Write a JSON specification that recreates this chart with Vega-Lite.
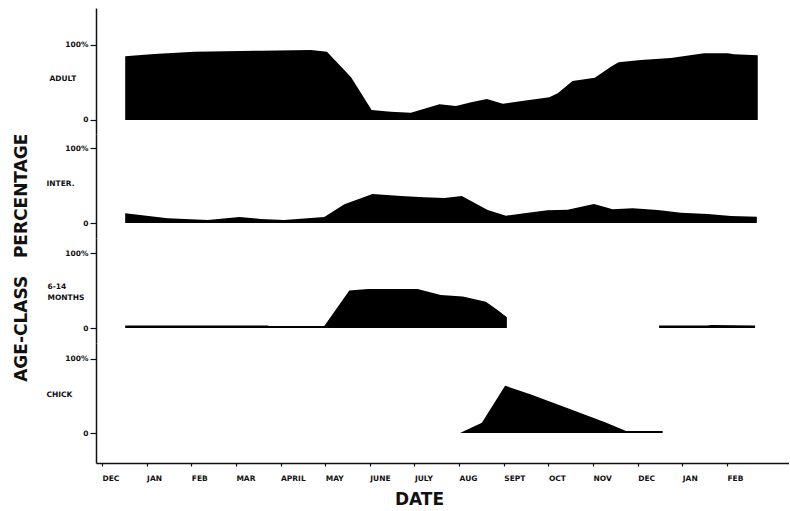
{
  "$schema": "https://vega.github.io/schema/vega-lite/v6.json",
  "padding": {"left": 12, "top": 8, "right": 0, "bottom": 0},
  "background": "white",
  "spacing": 0,
  "title": {"text": "AGE-CLASS\u00a0\u00a0\u00a0PERCENTAGE", "orient": "left", "anchor": "middle", "fontSize": 17, "fontWeight": "bold", "font": "DejaVu Sans", "color": "#111", "offset": 15},
  "data": {"values": [
    {"c": "ADULT", "seg": 1, "m": 0.52, "v": 85},
    {"c": "ADULT", "seg": 1, "m": 1.17, "v": 88},
    {"c": "ADULT", "seg": 1, "m": 2.07, "v": 91},
    {"c": "ADULT", "seg": 1, "m": 3.56, "v": 92.4},
    {"c": "ADULT", "seg": 1, "m": 4.68, "v": 93.3},
    {"c": "ADULT", "seg": 1, "m": 5.04, "v": 91},
    {"c": "ADULT", "seg": 1, "m": 5.58, "v": 57},
    {"c": "ADULT", "seg": 1, "m": 6.04, "v": 13.3},
    {"c": "ADULT", "seg": 1, "m": 6.47, "v": 11},
    {"c": "ADULT", "seg": 1, "m": 6.92, "v": 9.8},
    {"c": "ADULT", "seg": 1, "m": 7.56, "v": 21},
    {"c": "ADULT", "seg": 1, "m": 7.93, "v": 18.7},
    {"c": "ADULT", "seg": 1, "m": 8.27, "v": 23.6},
    {"c": "ADULT", "seg": 1, "m": 8.62, "v": 28},
    {"c": "ADULT", "seg": 1, "m": 8.98, "v": 21.8},
    {"c": "ADULT", "seg": 1, "m": 9.45, "v": 25.8},
    {"c": "ADULT", "seg": 1, "m": 10.02, "v": 30.2},
    {"c": "ADULT", "seg": 1, "m": 10.21, "v": 35.6},
    {"c": "ADULT", "seg": 1, "m": 10.54, "v": 52},
    {"c": "ADULT", "seg": 1, "m": 11.04, "v": 56.4},
    {"c": "ADULT", "seg": 1, "m": 11.40, "v": 71},
    {"c": "ADULT", "seg": 1, "m": 11.57, "v": 77},
    {"c": "ADULT", "seg": 1, "m": 12.07, "v": 80},
    {"c": "ADULT", "seg": 1, "m": 12.74, "v": 82.7},
    {"c": "ADULT", "seg": 1, "m": 13.49, "v": 89},
    {"c": "ADULT", "seg": 1, "m": 14.02, "v": 89},
    {"c": "ADULT", "seg": 1, "m": 14.16, "v": 87.6},
    {"c": "ADULT", "seg": 1, "m": 14.69, "v": 86.2},
    {"c": "INTER", "seg": 1, "m": 0.52, "v": 13},
    {"c": "INTER", "seg": 1, "m": 1.47, "v": 6.2},
    {"c": "INTER", "seg": 1, "m": 2.37, "v": 4},
    {"c": "INTER", "seg": 1, "m": 3.08, "v": 8},
    {"c": "INTER", "seg": 1, "m": 3.56, "v": 5.3},
    {"c": "INTER", "seg": 1, "m": 4.08, "v": 4},
    {"c": "INTER", "seg": 1, "m": 4.98, "v": 8},
    {"c": "INTER", "seg": 1, "m": 5.43, "v": 25},
    {"c": "INTER", "seg": 1, "m": 6.06, "v": 38.7},
    {"c": "INTER", "seg": 1, "m": 6.70, "v": 36},
    {"c": "INTER", "seg": 1, "m": 7.22, "v": 34.2},
    {"c": "INTER", "seg": 1, "m": 7.67, "v": 33.3},
    {"c": "INTER", "seg": 1, "m": 8.06, "v": 36},
    {"c": "INTER", "seg": 1, "m": 8.64, "v": 17.3},
    {"c": "INTER", "seg": 1, "m": 9.05, "v": 9.8},
    {"c": "INTER", "seg": 1, "m": 9.46, "v": 13},
    {"c": "INTER", "seg": 1, "m": 9.98, "v": 17},
    {"c": "INTER", "seg": 1, "m": 10.43, "v": 17.8},
    {"c": "INTER", "seg": 1, "m": 11.02, "v": 25.3},
    {"c": "INTER", "seg": 1, "m": 11.44, "v": 18.2},
    {"c": "INTER", "seg": 1, "m": 11.89, "v": 19.6},
    {"c": "INTER", "seg": 1, "m": 12.45, "v": 17.3},
    {"c": "INTER", "seg": 1, "m": 12.97, "v": 13.8},
    {"c": "INTER", "seg": 1, "m": 13.57, "v": 12},
    {"c": "INTER", "seg": 1, "m": 14.09, "v": 9.3},
    {"c": "INTER", "seg": 1, "m": 14.67, "v": 8.4},
    {"c": "MONTHS", "seg": 1, "m": 0.52, "v": 3.5},
    {"c": "MONTHS", "seg": 1, "m": 3.71, "v": 3.5},
    {"c": "MONTHS", "seg": 1, "m": 3.75, "v": 2.8},
    {"c": "MONTHS", "seg": 1, "m": 4.98, "v": 2.8},
    {"c": "MONTHS", "seg": 1, "m": 5.54, "v": 50},
    {"c": "MONTHS", "seg": 1, "m": 5.96, "v": 52},
    {"c": "MONTHS", "seg": 1, "m": 7.07, "v": 52},
    {"c": "MONTHS", "seg": 1, "m": 7.59, "v": 44},
    {"c": "MONTHS", "seg": 1, "m": 8.08, "v": 42},
    {"c": "MONTHS", "seg": 1, "m": 8.60, "v": 35},
    {"c": "MONTHS", "seg": 1, "m": 8.86, "v": 24},
    {"c": "MONTHS", "seg": 1, "m": 9.07, "v": 14.3},
    {"c": "MONTHS", "seg": 2, "m": 12.48, "v": 3.5},
    {"c": "MONTHS", "seg": 2, "m": 13.55, "v": 3.5},
    {"c": "MONTHS", "seg": 2, "m": 13.65, "v": 4},
    {"c": "MONTHS", "seg": 2, "m": 14.63, "v": 3.5},
    {"c": "CHICK", "seg": 1, "m": 8.02, "v": 0},
    {"c": "CHICK", "seg": 1, "m": 8.51, "v": 14},
    {"c": "CHICK", "seg": 1, "m": 9.03, "v": 64},
    {"c": "CHICK", "seg": 1, "m": 9.61, "v": 52},
    {"c": "CHICK", "seg": 1, "m": 10.36, "v": 35},
    {"c": "CHICK", "seg": 1, "m": 11.27, "v": 14.7},
    {"c": "CHICK", "seg": 1, "m": 11.74, "v": 2.7},
    {"c": "CHICK", "seg": 1, "m": 12.56, "v": 2.7}
  ]},
  "config": {
    "view": {"stroke": null},
    "font": "DejaVu Sans",
    "axis": {
      "grid": false,
      "domainColor": "#111",
      "domainWidth": 1.5,
      "tickColor": "#111",
      "tickWidth": 1.2,
      "labelColor": "#111",
      "labelFont": "DejaVu Sans",
      "labelFontWeight": "bold",
      "labelFontSize": 7.5,
      "labelOverlap": false,
      "labelFlush": false,
      "labelBound": false
    }
  },
  "vconcat": [
    {
      "width": 693, "height": 126,
      "transform": [{"filter": "datum.c == 'ADULT'"}],
      "mark": {"type": "area", "color": "#000", "interpolate": "linear"},
      "encoding": {
        "x": {"field": "m", "type": "quantitative", "scale": {"domain": [-0.134, 15.39], "nice": false, "zero": false}, "axis": null},
        "y": {"field": "v", "type": "quantitative", "scale": {"domain": [-18.67, 149.33], "nice": false, "zero": false},
          "axis": {"title": null, "values": [0, 55, 100], "tickSize": 6,
            "labelExpr": "datum.value == 100 ? '100%' : datum.value == 0 ? '0' : 'ADULT'",
            "tickOpacity": {"condition": {"test": "datum.value == 55", "value": 0}, "value": 1},
            "labelAlign": {"condition": {"test": "datum.value == 55", "value": "left"}, "value": "right"},
            "labelPadding": {"condition": {"test": "datum.value == 55", "value": 41}, "value": 2}}},
        "y2": {"datum": 0},
        "detail": {"field": "seg", "type": "nominal"}
      }
    },
    {
      "width": 693, "height": 104,
      "transform": [{"filter": "datum.c == 'INTER'"}],
      "mark": {"type": "area", "color": "#000", "interpolate": "linear"},
      "encoding": {
        "x": {"field": "m", "type": "quantitative", "scale": {"domain": [-0.134, 15.39], "nice": false, "zero": false}, "axis": null},
        "y": {"field": "v", "type": "quantitative", "scale": {"domain": [-20, 118.67], "nice": false, "zero": false},
          "axis": {"title": null, "values": [0, 53, 100], "tickSize": 6,
            "labelExpr": "datum.value == 100 ? '100%' : datum.value == 0 ? '0' : 'INTER.'",
            "tickOpacity": {"condition": {"test": "datum.value == 53", "value": 0}, "value": 1},
            "labelAlign": {"condition": {"test": "datum.value == 53", "value": "left"}, "value": "right"},
            "labelPadding": {"condition": {"test": "datum.value == 53", "value": 44}, "value": 2}}},
        "y2": {"datum": 0},
        "detail": {"field": "seg", "type": "nominal"}
      }
    },
    {
      "width": 693, "height": 105,
      "transform": [{"filter": "datum.c == 'MONTHS'"}],
      "mark": {"type": "area", "color": "#000", "interpolate": "linear"},
      "encoding": {
        "x": {"field": "m", "type": "quantitative", "scale": {"domain": [-0.134, 15.39], "nice": false, "zero": false}, "axis": null},
        "y": {"field": "v", "type": "quantitative", "scale": {"domain": [-20, 120], "nice": false, "zero": false},
          "axis": {"title": null, "values": [0, 56, 100], "tickSize": 6, "labelLineHeight": 11,
            "labelExpr": "datum.value == 100 ? '100%' : datum.value == 0 ? '0' : ['6-14', 'MONTHS']",
            "tickOpacity": {"condition": {"test": "datum.value == 56", "value": 0}, "value": 1},
            "labelAlign": {"condition": {"test": "datum.value == 56", "value": "left"}, "value": "right"},
            "labelPadding": {"condition": {"test": "datum.value == 56", "value": 43}, "value": 2}}},
        "y2": {"datum": 0},
        "detail": {"field": "seg", "type": "nominal"}
      }
    },
    {
      "width": 693, "height": 120,
      "transform": [{"filter": "datum.c == 'CHICK'"}],
      "mark": {"type": "area", "color": "#000", "interpolate": "linear"},
      "encoding": {
        "x": {"field": "m", "type": "quantitative", "scale": {"domain": [-0.134, 15.39], "nice": false, "zero": false},
          "axis": {"values": [0, 1, 2, 3, 4, 5, 6, 7, 8, 9, 10, 11, 12, 13, 14], "tickSize": 3, "labelPadding": 8, "labelAlign": "left",
            "labelExpr": "['DEC','JAN','FEB','MAR','APRIL','MAY','JUNE','JULY','AUG','SEPT','OCT','NOV','DEC','JAN','FEB'][datum.value]",
            "title": "DATE", "titleFont": "DejaVu Sans", "titleFontSize": 17, "titleFontWeight": "bold", "titleColor": "#111",
            "titleX": 323, "titleAlign": "center", "titlePadding": 10}},
        "y": {"field": "v", "type": "quantitative", "scale": {"domain": [-40.5, 121.6], "nice": false, "zero": false},
          "axis": {"title": null, "values": [0, 52, 100], "tickSize": 6,
            "labelExpr": "datum.value == 100 ? '100%' : datum.value == 0 ? '0' : 'CHICK'",
            "tickOpacity": {"condition": {"test": "datum.value == 52", "value": 0}, "value": 1},
            "labelAlign": {"condition": {"test": "datum.value == 52", "value": "left"}, "value": "right"},
            "labelPadding": {"condition": {"test": "datum.value == 52", "value": 44}, "value": 2}}},
        "y2": {"datum": 0},
        "detail": {"field": "seg", "type": "nominal"}
      }
    }
  ]
}
